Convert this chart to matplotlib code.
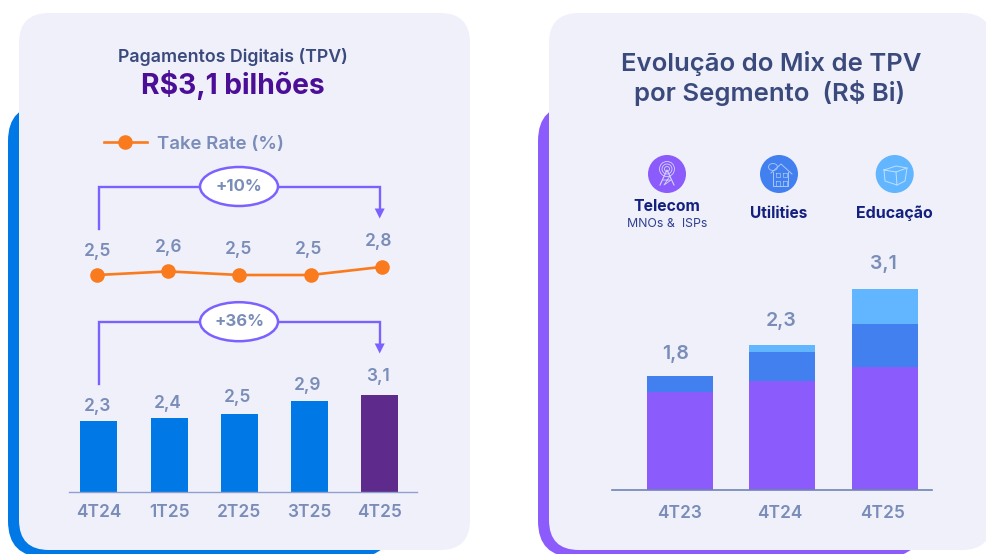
import matplotlib
matplotlib.use('Agg')
import matplotlib.pyplot as plt
from matplotlib.patches import FancyBboxPatch, Ellipse, Circle, Polygon
from matplotlib.transforms import ScaledTranslation

###       DATA        ###
tpv_periods = ['4T24', '1T25', '2T25', '3T25', '4T25']
tpv_values = [2.30, 2.41, 2.54, 2.93, 3.14]
tpv_labels = ['2,3', '2,4', '2,5', '2,9', '3,1']
take_rate = [2.50, 2.62, 2.50, 2.50, 2.77]
take_labels = ['2,5', '2,6', '2,5', '2,5', '2,8']

mix_periods = ['4T23', '4T24', '4T25']
telecom = [1.53, 1.71, 1.92]
utilities = [0.26, 0.45, 0.68]
educacao = [0.00, 0.11, 0.54]
mix_labels = ['1,8', '2,3', '3,1']
###                   ###

BLUE = '#0078E6'
DARK_PURPLE = '#5E2B8C'
VIOLET = '#8B5CFB'
MID_BLUE = '#4280F0'
LIGHT_BLUE = '#62B5FF'
ORANGE = '#FA7A1E'
BRACKET = '#7B61FF'
CARD = '#EFF0FA'
GREY_TEXT = '#7A8DB8'
TITLE_TEXT = '#3B4A7C'
NAVY = '#14207E'

plt.rcParams['font.family'] = ['Inter', 'DejaVu Sans']

W, H = 987, 554
PT = 0.72   # points per pixel at dpi 100
fig = plt.figure(figsize=(W/100, H/100), dpi=100, facecolor='white')


def px_axes(left, top, right, bottom):
    # axes placed by pixel box of the picture
    ax = fig.add_axes([left/W, 1-bottom/H, (right-left)/W, (bottom-top)/H])
    ax.patch.set_alpha(0)
    return ax


###       BACKGROUND        ###
bg = fig.add_axes([0, 0, 1, 1], zorder=0)
bg.set_xlim(0, W)
bg.set_ylim(H, 0)
bg.axis('off')


def card(x0, y0, x1, y1, color, r=30):
    bg.add_patch(FancyBboxPatch((x0+r, y0+r), x1-x0-2*r, y1-y0-2*r,
                                boxstyle='round,pad=%d,rounding_size=%d' % (r, r),
                                fc=color, ec='none'))


card(8, 105, 392, 557, BLUE, r=36)
card(538, 105, 922, 557, VIOLET, r=36)
card(19, 13, 470, 550, CARD)
card(549, 13, 992, 550, CARD)


def bracket(y_top, y_start, y_tip, text):
    bg.plot([99, 99, 379.7, 379.7], [y_start, y_top, y_top, y_tip-8], color=BRACKET, lw=1.7,
            solid_joinstyle='miter')
    bg.add_patch(Polygon([[374.7, y_tip-10], [384.7, y_tip-10], [379.7, y_tip]], fc=BRACKET, ec='none'))
    bg.add_patch(Ellipse((239, y_top), 78, 39, fc='white', ec=BRACKET, lw=1.8, zorder=3))
    bg.text(239, y_top, text, ha='center', va='center', fontsize=12, fontweight='bold',
            color=GREY_TEXT, zorder=4)


bracket(186.5, 228.5, 218.5, '+10%')
bracket(321.7, 383.5, 353.5, '+36%')

bg.text(233, 57, 'Pagamentos Digitais (TPV)', ha='center', va='center', fontsize=12.8,
        fontweight='semibold', color=TITLE_TEXT)
bg.text(233, 85, 'R$3,1 bilhões', ha='center', va='center', fontsize=20.3, fontweight='bold',
        color='#4B0E96')
bg.text(771, 63, 'Evolução do Mix de TPV', ha='center', va='center', fontsize=18.5,
        fontweight='semibold', color=TITLE_TEXT)
bg.text(770, 93, 'por Segmento  (R$ Bi)', ha='center', va='center', fontsize=18.5,
        fontweight='semibold', color=TITLE_TEXT)

# segment icons
for cx, color in [(667, VIOLET), (779, MID_BLUE), (894.7, LIGHT_BLUE)]:
    bg.add_patch(Circle((cx, 174), 19, fc=color, ec='none'))
ICON = '#D6D6FA'
for r in (2.5, 5, 7.5):
    bg.add_patch(Circle((667, 169), r, fc='none', ec=ICON, lw=0.6))
bg.plot([660, 667, 674], [185, 170, 185], color=ICON, lw=0.8)
bg.plot([663, 671, 664, 670], [180, 180, 185, 176], color=ICON, lw=0.6)
HOUSE = '#A9C8F8'
bg.plot([771, 781, 792], [173, 164, 174], color=HOUSE, lw=0.7)
bg.plot([773, 773, 788, 788], [172, 186, 186, 172], color=HOUSE, lw=0.7)
bg.plot([776, 780, 780, 776, 776], [173, 173, 177, 177, 173], color=HOUSE, lw=0.5)
bg.plot([783, 787, 787, 783, 783], [173, 173, 177, 177, 173], color=HOUSE, lw=0.5)
bg.plot([776, 780, 780, 776, 776], [181, 181, 186, 186, 181], color=HOUSE, lw=0.5)
bg.plot([783, 787, 787, 783, 783], [181, 181, 186, 186, 181], color=HOUSE, lw=0.5)
bg.add_patch(Ellipse((773, 167), 9, 7, fc='none', ec=HOUSE, lw=0.6))
BOX = '#BFE0FF'
bg.plot([884, 896, 907, 896, 884], [170, 166, 168, 172, 170], color=BOX, lw=0.7)
bg.plot([884, 885, 897, 896], [170, 181, 185, 172], color=BOX, lw=0.7)
bg.plot([897, 905, 907], [185, 181, 168], color=BOX, lw=0.7)

bg.text(667, 206.5, 'Telecom', ha='center', va='center', fontsize=11.3, fontweight='bold', color=NAVY)
bg.text(667, 224, 'MNOs &  ISPs', ha='center', va='center', fontsize=8.9, color='#2E3F90')
bg.text(779, 213.5, 'Utilities', ha='center', va='center', fontsize=11.1, fontweight='bold', color=NAVY)
bg.text(894.5, 213.5, 'Educação', ha='center', va='center', fontsize=11.5, fontweight='bold', color=NAVY)

###       TAKE RATE LINE        ###
ax_line = px_axes(68, 230, 417, 290)
ax_line.plot(range(5), take_rate, color=ORANGE, lw=1.9, marker='o', ms=10.5, mec='none',
             label='Take Rate (%)')
ax_line.set_xlim((68-97)/71.2, (417-97)/71.2)
# 30 px per unit, 2,5 sits at y=275
ax_line.set_ylim(2.5-(290-275)/30, 2.5+(275-230)/30)
ax_line.axis('off')
take_dx = [1, 0, -1, -2, -3]
take_dy = [23, 24, 25, 25, 25]
for i, (v, lab) in enumerate(zip(take_rate, take_labels)):
    ax_line.annotate(lab, (i, v), xytext=(take_dx[i]*PT, take_dy[i]*PT), textcoords='offset points',
                     ha='center', va='center', fontsize=12.5, fontweight='semibold', color=GREY_TEXT,
                     annotation_clip=False)
ax_line.legend(loc='center left', bbox_to_anchor=(104/W, 1-144/H), bbox_transform=fig.transFigure,
               frameon=False, handlelength=2.3, handletextpad=0.55, borderpad=0, borderaxespad=0,
               labelcolor=GREY_TEXT, prop={'size': 13.4, 'weight': 'semibold'})

###       TPV BARS        ###
ax_tpv = px_axes(68.7, 370, 417, 492.3)
ax_tpv.bar(range(5), tpv_values, width=37/70.1, color=[BLUE]*4+[DARK_PURPLE])
ax_tpv.set_xlim((68.7-99)/70.1, (417-99)/70.1)
ax_tpv.set_ylim(0, (492.3-370)/31)
for s in ['top', 'left', 'right']:
    ax_tpv.spines[s].set_visible(False)
ax_tpv.spines['bottom'].set_color('#8FA0CC')
ax_tpv.spines['bottom'].set_linewidth(1.0)
ax_tpv.set_yticks([])
ax_tpv.set_xticks(range(5), tpv_periods)
ax_tpv.tick_params(axis='x', length=0, pad=8.5, labelsize=12.5, labelcolor=GREY_TEXT)
for lab in ax_tpv.get_xticklabels():
    lab.set_fontweight('semibold')
tpv_dy = [14.7, 13.7, 15.7, 15.7, 18.7]
for i, (v, lab) in enumerate(zip(tpv_values, tpv_labels)):
    ax_tpv.annotate(lab, (i, v), xytext=(-1, tpv_dy[i]*PT), textcoords='offset points', ha='center',
                    va='center', fontsize=12.5, fontweight='semibold', color=GREY_TEXT,
                    annotation_clip=False)

###       MIX BARS        ###
ax_mix = px_axes(612.3, 270, 931.7, 490.3)
xs = range(3)
ax_mix.bar(xs, telecom, width=66/102.7, color=VIOLET)
ax_mix.bar(xs, utilities, width=66/102.7, bottom=telecom, color=MID_BLUE)
tops = [a+b for a, b in zip(telecom, utilities)]
ax_mix.bar(xs, educacao, width=66/102.7, bottom=tops, color=LIGHT_BLUE)
ax_mix.set_xlim((612.3-679.7)/102.7, (931.7-679.7)/102.7)
ax_mix.set_ylim(0, (490.3-270)/64)
for s in ['top', 'left', 'right']:
    ax_mix.spines[s].set_visible(False)
ax_mix.spines['bottom'].set_color('#6F84B4')
ax_mix.spines['bottom'].set_linewidth(1.2)
ax_mix.set_yticks([])
ax_mix.set_xticks(xs, mix_periods)
ax_mix.tick_params(axis='x', length=0, pad=10.5, labelsize=12.5, labelcolor=GREY_TEXT)
tick_dx = [0, -3, -2.5]
for lab, dx in zip(ax_mix.get_xticklabels(), tick_dx):
    lab.set_fontweight('semibold')
    lab.set_transform(lab.get_transform() + ScaledTranslation(dx/100, 0, fig.dpi_scale_trans))
totals = [a+b for a, b in zip(tops, educacao)]
mix_dx = [-4, -1, -2]
mix_dy = [21.7, 24.5, 25]
for i, (v, lab) in enumerate(zip(totals, mix_labels)):
    ax_mix.annotate(lab, (i, v), xytext=(mix_dx[i]*PT, mix_dy[i]*PT), textcoords='offset points',
                    ha='center', va='center', fontsize=14, fontweight='semibold', color=GREY_TEXT,
                    annotation_clip=False)

plt.savefig('out.png', dpi=100)
